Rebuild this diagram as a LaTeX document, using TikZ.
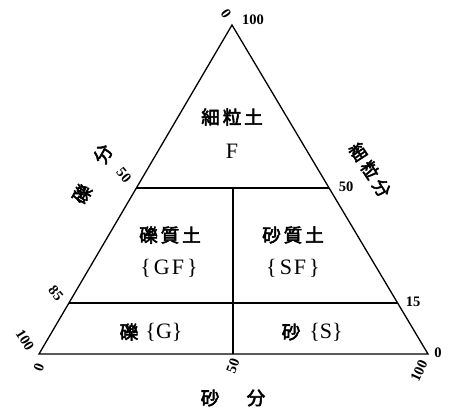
\documentclass[tikz,border=0pt]{standalone}
\usepackage{fontspec}
\setmainfont{Liberation Serif}
\newfontfamily\jp[AutoFakeBold=3]{Noto Sans CJK JP}
\usetikzlibrary{calc}
\begin{document}
\begin{tikzpicture}[x=1pt,y=-1pt,
  edge/.style={line width=1.3pt, line join=miter},
  jplab/.style={font=\jp\bfseries\fontsize{18.5}{18.5}\selectfont, inner sep=0pt},
  latlab/.style={font=\fontsize{22}{22}\selectfont, inner sep=0pt},
  num/.style={font=\bfseries\fontsize{14.5}{14.5}\selectfont, inner sep=0pt}]
\useasboundingbox (0,0) rectangle (456,409);
% triangle vertices and division points
\coordinate (A) at (232,25);
\coordinate (B) at (39,354);
\coordinate (C) at (428,354);
\coordinate (L50) at ($(A)!0.495!(B)$);
\coordinate (R50) at ($(A)!0.495!(C)$);
\coordinate (L85) at ($(A)!0.845!(B)$);
\coordinate (R85) at ($(A)!0.845!(C)$);
\coordinate (M50) at (233,189);
\coordinate (MB) at (M50 |- B);
% lines
\draw[edge] (A) -- (B) -- (C) -- cycle;
\draw[edge] (L50) -- (R50);
\draw[edge] (L85) -- (R85);
\draw[edge] (M50) -- (MB);
% zone labels
\node[jplab] (fine) at (232,117) {細\kern3pt粒\kern3pt土};
\node[latlab] (fineF) at (232,151) {F};
\node[jplab] (gfj) at (170,235) {礫\kern3pt質\kern3pt土};
\node[latlab] (gf) at (169,268) {\{\kern3pt G\kern2pt F\kern3pt\}};
\node[jplab] (sfj) at (293,235) {砂\kern3pt質\kern3pt土};
\node[latlab] (sf) at (293,268) {\{\kern3pt S\kern2pt F\kern3pt\}};
\node[jplab] (gj) at (129,332) {礫};
\node[latlab] (g) at (164,332) {\{G\}};
\node[jplab] (sj) at (291,332) {砂};
\node[latlab] (s) at (326,332) {\{S\}};
% axis titles
\node[jplab] (sandaxA) at (210,398) {砂};
\node[jplab] (sandaxB) at (256,398) {分};
\node[jplab, rotate=60] (gravaxA) at (82,194) {礫};
\node[jplab, rotate=60] (gravaxB) at (103,154) {分};
\node[jplab, rotate=-57, font=\jp\bfseries\fontsize{17.5}{17.5}\selectfont] (fineax) at (370,170) {細\kern4pt粒\kern4pt分};
% left axis numbers (gravel)
\node[num, rotate=-55] (gl0) at (226,14) {0};
\node[num, rotate=-50] (gl50) at (124,175) {50};
\node[num, rotate=-50] (gl85) at (56,293) {85};
\node[num, rotate=-58] (gl100) at (25,340) {100};
% right axis numbers (fines)
\node[num] (fr100) at (253,20) {100};
\node[num] (fr50) at (346,187) {50};
\node[num] (fr15) at (413,302) {15};
\node[num] (fr0) at (438,353) {0};
% bottom axis numbers (sand)
\node[num, rotate=70] (sb0) at (39,367) {0};
\node[num, rotate=70] (sb50) at (233,366) {50};
\node[num, rotate=65] (sb100) at (419,371) {100};
\end{tikzpicture}
\end{document}
